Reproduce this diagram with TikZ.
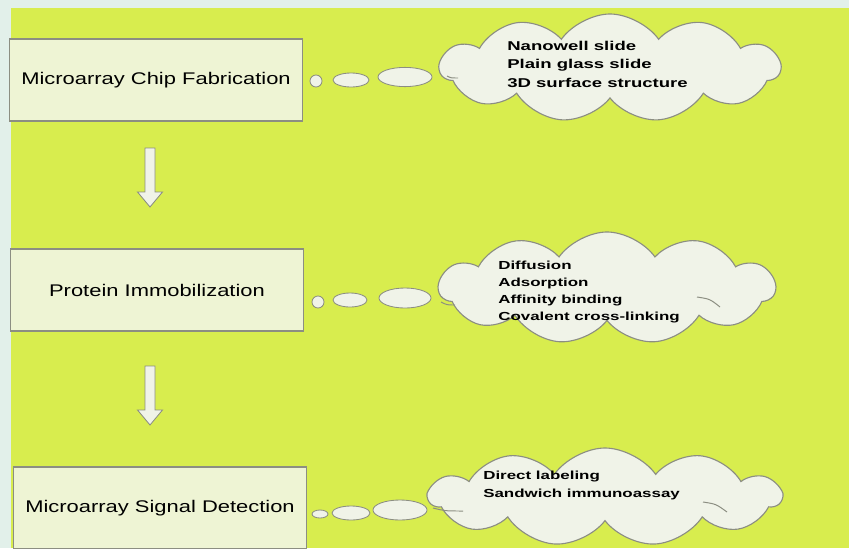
\documentclass[tikz,border=0pt]{standalone}
\usepackage{fontspec}
\setmainfont{Liberation Sans}
\newfontfamily\stagefont[FakeStretch=1.3]{Liberation Sans}
\newfontfamily\notefont[FakeStretch=1.45]{Liberation Sans}
\usetikzlibrary{positioning, shapes.geometric, shapes.symbols, calc}
\definecolor{slidebg}{RGB}{216,237,78}
\definecolor{slideedge}{RGB}{226,240,234}
\definecolor{boxfill}{RGB}{238,244,212}
\definecolor{cloudfill}{RGB}{240,243,232}
\definecolor{edgegray}{RGB}{140,142,130}

\begin{document}
\begin{tikzpicture}[
  x=0.025cm, y=-0.025cm,
  stage/.style={
    rectangle, draw=edgegray, line width=1pt, fill=boxfill,
    minimum width=7.33cm, minimum height=2.05cm,
    font=\stagefont\fontsize{12}{14}\selectfont
  },
  puffy/.style={
    cloud, cloud puffs=11, cloud puff arc=110, aspect=3,
    draw=edgegray, line width=0.8pt, fill=cloudfill, inner sep=0pt
  },
  bubble/.style={ellipse, draw=edgegray, line width=0.6pt,
    fill=cloudfill, inner sep=0pt},
  notes/.style={align=left, anchor=north west, inner sep=0pt},
  crease/.style={edgegray, line width=0.7pt},
  downarrow/.pic={
    \draw[edgegray, fill=cloudfill, line width=0.6pt]
      (-5,0) -- (5,0) -- (5,44) -- (12.5,44) -- (0,59)
      -- (-12.5,44) -- (-5,44) -- cycle;
  },
]

% ---- slide background ----
\fill[slideedge] (0,0) rectangle (849,548);
\fill[slidebg] (11,8) rectangle (849,548);
\clip (0,0) rectangle (849,548);

% =====================================================
% WORKFLOW STAGES (left column)
% =====================================================
\node[stage] (fab)    at (156,80)  {Microarray Chip Fabrication};
\node[stage] (immob)  at (157,290) {Protein Immobilization};
\node[stage] (detect) at (160,508) {Microarray Signal Detection};

% block arrows between the stages
\pic at (150,148) {downarrow};
\pic at (150,366) {downarrow};

% =====================================================
% THOUGHT CLOUDS (right column)
% =====================================================
\node[puffy, minimum width=8.5cm, minimum height=2.7cm]   (fabcloud)    at (610,68)  {};
\node[puffy, minimum width=8.4cm, minimum height=2.8cm]   (immobcloud)  at (607,288) {};
\node[puffy, minimum width=8.8cm, minimum height=2.45cm]  (detectcloud) at (605,497) {};

% creases inside the clouds
\draw[crease] (447,76) .. controls (451,78) .. (458,78);
\draw[crease] (441,302) .. controls (447,305) .. (455,305);
\draw[crease] (697,297) .. controls (710,299) .. (720,307);
\draw[crease] (433,508) .. controls (445,511) .. (463,511);
\draw[crease] (703,502) .. controls (716,504) .. (727,512);

\node[notes, font=\notefont\bfseries\fontsize{9.1}{13}\selectfont]
  (fabnotes) at (507,41) {Nanowell slide\\Plain glass slide\\3D surface structure};
\node[notes, font=\notefont\bfseries\fontsize{8.3}{12.1}\selectfont]
  (immobnotes) at (498,261) {Diffusion\\Adsorption\\Affinity binding\\Covalent cross-linking};
\node[notes, font=\notefont\bfseries\fontsize{8.3}{12.8}\selectfont]
  (detectnotes) at (483,471) {Direct labeling\\Sandwich immunoassay};

% ---- bubble trails from stage to cloud ----
\node[bubble, minimum width=0.3cm, minimum height=0.3cm]   (fabb1) at (316,81) {};
\node[bubble, minimum width=0.9cm, minimum height=0.35cm]  (fabb2) at (351,80) {};
\node[bubble, minimum width=1.35cm, minimum height=0.48cm] (fabb3) at (405,77) {};

\node[bubble, minimum width=0.3cm, minimum height=0.3cm]   (immobb1) at (318,302) {};
\node[bubble, minimum width=0.85cm, minimum height=0.35cm] (immobb2) at (350,300) {};
\node[bubble, minimum width=1.3cm, minimum height=0.5cm]   (immobb3) at (405,298) {};

\node[bubble, minimum width=0.4cm, minimum height=0.2cm]   (detectb1) at (320,514) {};
\node[bubble, minimum width=0.95cm, minimum height=0.35cm] (detectb2) at (351,513) {};
\node[bubble, minimum width=1.35cm, minimum height=0.5cm]  (detectb3) at (400,510) {};

\end{tikzpicture}
\end{document}
